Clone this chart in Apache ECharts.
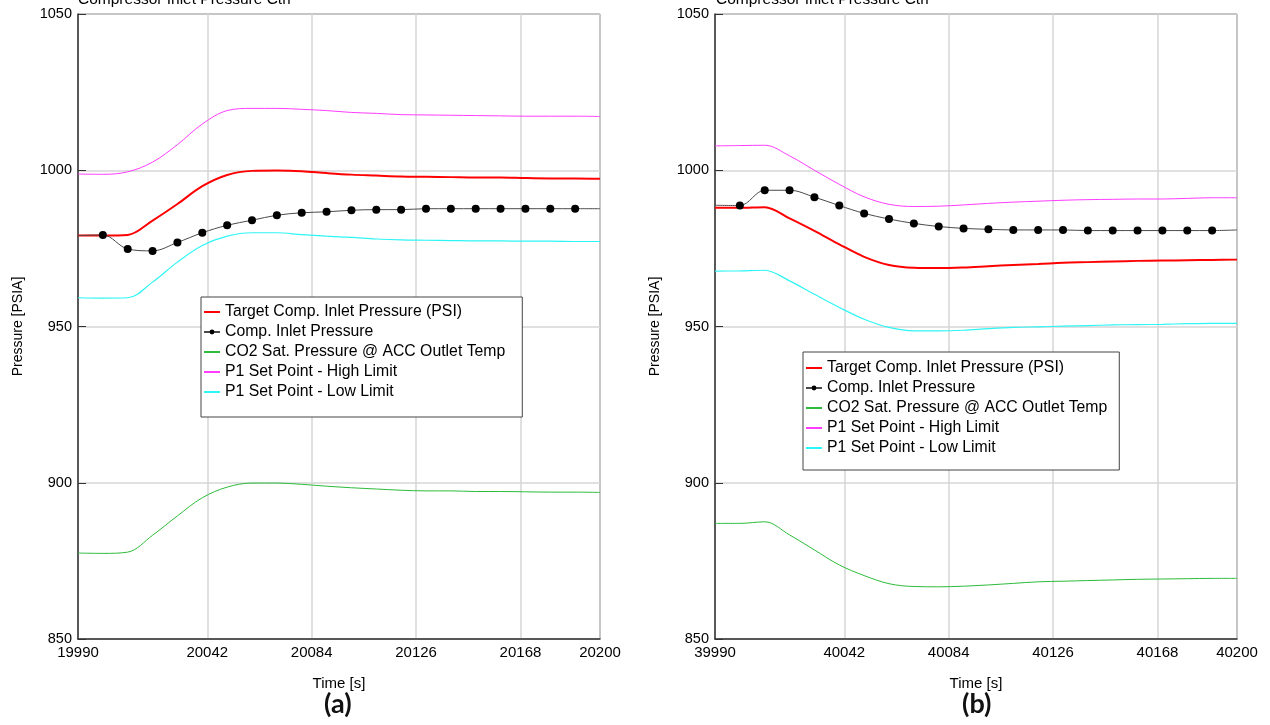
<!DOCTYPE html>
<html>
<head>
<meta charset="utf-8">
<script src="https://cdn.jsdelivr.net/npm/echarts@6/dist/echarts.min.js"></script>
<style>
  html, body { margin: 0; padding: 0; background: #ffffff; }
  #chart { width: 1270px; height: 725px; }
</style>
</head>
<body>
<div id="chart"></div>
<script>
// ---- Panel (a): run around t = 20000 s ----
const timesA = [19990, 20000, 20010, 20020, 20030, 20040, 20050, 20060, 20070, 20080, 20090,
                20100, 20110, 20120, 20130, 20140, 20150, 20160, 20170, 20180, 20190, 20200];
const targetA = [979.1, 979.1, 979.3, 983.9, 989.2, 994.9, 998.5, 999.8, 999.9, 999.7, 999.1,
                 998.6, 998.3, 998.0, 997.9, 997.8, 997.7, 997.7, 997.5, 997.4, 997.4, 997.3];
const compA = [979.1, 979.3, 974.8, 974.2, 976.9, 980.0, 982.4, 984.0, 985.6, 986.4, 986.7,
               987.2, 987.4, 987.4, 987.7, 987.7, 987.7, 987.7, 987.7, 987.7, 987.7, 987.7];
const satA = [877.5, 877.4, 877.8, 883.2, 889.4, 895.2, 898.6, 899.9, 899.9, 899.5, 898.9,
              898.4, 898.0, 897.6, 897.4, 897.4, 897.2, 897.2, 897.1, 897.0, 897.0, 896.9];
const highA = [998.8, 998.7, 999.5, 1002.6, 1008.2, 1014.8, 1019.1, 1019.8, 1019.8, 1019.5, 1019.1,
               1018.5, 1018.2, 1017.8, 1017.7, 1017.6, 1017.5, 1017.4, 1017.3, 1017.3, 1017.3, 1017.2];
const lowA = [959.2, 959.1, 959.2, 964.2, 970.6, 975.9, 978.9, 980.0, 980.0, 979.4, 978.9,
              978.5, 978.0, 977.7, 977.6, 977.5, 977.4, 977.4, 977.3, 977.3, 977.2, 977.2];
const xTicksA = [19990, 20042, 20084, 20126, 20168, 20200];

// ---- Panel (b): run around t = 40000 s ----
const timesB = [39990, 40000, 40010, 40020, 40030, 40040, 40050, 40060, 40070, 40080, 40090,
                40100, 40110, 40120, 40130, 40140, 40150, 40160, 40170, 40180, 40190, 40200];
const targetB = [988.0, 988.0, 988.2, 984.6, 980.6, 976.3, 972.3, 969.7, 968.8, 968.7, 968.9,
                 969.3, 969.7, 970.0, 970.4, 970.6, 970.8, 971.0, 971.1, 971.2, 971.3, 971.4];
const compB = [988.8, 988.7, 993.6, 993.6, 991.4, 988.7, 986.2, 984.4, 983.0, 982.0, 981.4,
               981.1, 980.9, 980.9, 980.9, 980.7, 980.7, 980.7, 980.7, 980.7, 980.7, 980.9];
const satB = [887.0, 887.0, 887.5, 883.3, 878.5, 873.7, 870.3, 867.7, 866.8, 866.7, 866.9,
              867.3, 867.8, 868.3, 868.5, 868.7, 868.9, 869.1, 869.2, 869.3, 869.4, 869.4];
const highB = [1007.8, 1007.9, 1008.0, 1004.6, 1000.0, 995.5, 991.5, 989.1, 988.4, 988.5, 988.9,
               989.4, 989.8, 990.1, 990.4, 990.6, 990.7, 990.8, 990.8, 991.0, 991.2, 991.2];
const lowB = [967.7, 967.8, 968.0, 964.6, 960.3, 956.1, 952.3, 949.7, 948.6, 948.6, 948.8,
              949.3, 949.7, 949.9, 950.1, 950.3, 950.5, 950.6, 950.7, 950.9, 951.0, 951.0];
const xTicksB = [39990, 40042, 40084, 40126, 40168, 40200];

const yTicks = [850, 900, 950, 1000, 1050];

const NAMES = {
  target: 'Target Comp. Inlet Pressure (PSI)',
  comp: 'Comp. Inlet Pressure',
  sat: 'CO2 Sat. Pressure @ ACC Outlet Temp',
  high: 'P1 Set Point - High Limit',
  low: 'P1 Set Point - Low Limit'
};

const FONT = '"Liberation Sans", Arial, sans-serif';

function pairs(times, vals) {
  return times.map((t, i) => [t, vals[i]]);
}
// measured series: dots on the sampled points, plain line at the ends of the window
function dotted(times, vals) {
  return times.map((t, i) => {
    const item = { value: [t, vals[i]] };
    if (i === 0 || i === times.length - 1) item.symbol = 'none';
    return item;
  });
}

function plainLine(name, idx, times, vals, color, width) {
  return {
    name, type: 'line', xAxisIndex: idx, yAxisIndex: idx,
    data: pairs(times, vals), symbol: 'none', smooth: 0.35,
    lineStyle: { color, width }, itemStyle: { color }, z: 2
  };
}

function panelSeries(idx, t, target, comp, sat, high, low) {
  return [
    plainLine(NAMES.sat, idx, t, sat, '#2dbb3a', 1),
    plainLine(NAMES.high, idx, t, high, '#ff3cff', 1),
    plainLine(NAMES.low, idx, t, low, '#2ef5f5', 1.2),
    plainLine(NAMES.target, idx, t, target, '#ff0000', 2),
    {
      name: NAMES.comp, type: 'line', xAxisIndex: idx, yAxisIndex: idx,
      data: dotted(t, comp), smooth: 0.35,
      symbol: 'circle', symbolSize: 8, showAllSymbol: true,
      lineStyle: { color: '#4a4a4a', width: 1 },
      itemStyle: { color: '#000000' }, z: 4
    }
  ];
}

function xAxisCfg(idx, min, max, ticks) {
  return {
    type: 'value', gridIndex: idx, min, max,
    name: 'Time [s]', nameLocation: 'middle', nameGap: 37,
    nameTextStyle: { fontSize: 15, color: '#000', fontFamily: FONT },
    axisLine: { show: true, lineStyle: { color: '#333', width: 1.5 } },
    axisTick: { show: false, customValues: ticks },
    axisLabel: { customValues: ticks, fontSize: 15, color: '#000', fontFamily: FONT, margin: 6,
                 formatter: v => String(v) },
    splitLine: { show: true, lineStyle: { color: '#d6d6d6', width: 1.5 } }
  };
}

function yAxisCfg(idx) {
  return {
    type: 'value', gridIndex: idx, min: yTicks[0], max: yTicks[yTicks.length - 1], interval: 50,
    name: 'Pressure [PSIA]', nameLocation: 'middle', nameGap: 53,
    nameTextStyle: { fontSize: 14, color: '#000', fontFamily: FONT },
    axisLine: { show: true, lineStyle: { color: '#333', width: 1.5 } },
    axisTick: { show: true, inside: true, length: 8, lineStyle: { color: '#333' } },
    axisLabel: { fontSize: 14.5, color: '#000', fontFamily: FONT, margin: 6, formatter: v => String(v) },
    splitLine: { show: true, lineStyle: { color: '#d6d6d6', width: 1.5 } }
  };
}

// plain curves get a bare line sample; the measured series keeps its dot
const legendItems = [
  { name: NAMES.target, itemStyle: { opacity: 0 } },
  { name: NAMES.comp },
  { name: NAMES.sat, itemStyle: { opacity: 0 } },
  { name: NAMES.high, itemStyle: { opacity: 0 } },
  { name: NAMES.low, itemStyle: { opacity: 0 } }
];

function legendCfg(left, top, padding) {
  return {
    left, top, orient: 'vertical', itemGap: 4, itemWidth: 16, itemHeight: 6,
    padding,
    backgroundColor: '#ffffff', borderColor: '#444', borderWidth: 1,
    textStyle: { fontSize: 15.8, lineHeight: 14, color: '#000', fontFamily: FONT },
    data: legendItems, selectedMode: false
  };
}

const chart = echarts.init(document.getElementById('chart'), null, { renderer: 'canvas' });
chart.setOption({
  animation: false,
  backgroundColor: '#ffffff',
  title: [
    { text: 'Compressor Inlet Pressure Ctrl', left: 78, top: -8, padding: 0,
      textStyle: { fontSize: 15.5, fontWeight: 'normal', color: '#000', fontFamily: FONT, lineHeight: 16 } },
    { text: 'Compressor Inlet Pressure Ctrl', left: 716, top: -8, padding: 0,
      textStyle: { fontSize: 15.5, fontWeight: 'normal', color: '#000', fontFamily: FONT, lineHeight: 16 } },
    { text: '(a)', left: 324, top: 691, padding: 0,
      textStyle: { fontSize: 27, fontWeight: 'bold', color: '#111', fontFamily: 'Lato, "Open Sans", sans-serif' } },
    { text: '(b)', left: 962, top: 691, padding: 0,
      textStyle: { fontSize: 27, fontWeight: 'bold', color: '#111', fontFamily: 'Lato, "Open Sans", sans-serif' } }
  ],
  grid: [
    { left: 78, top: 14, width: 522, height: 625, show: true, borderColor: '#333', borderWidth: 1, backgroundColor: 'transparent' },
    { left: 715, top: 14, width: 522, height: 625, show: true, borderColor: '#333', borderWidth: 1, backgroundColor: 'transparent' }
  ],
  xAxis: [
    xAxisCfg(0, timesA[0], timesA[timesA.length - 1], xTicksA),
    xAxisCfg(1, timesB[0], timesB[timesB.length - 1], xTicksB)
  ],
  yAxis: [yAxisCfg(0), yAxisCfg(1)],
  legend: [legendCfg(201, 297, [7, 17, 17, 2]), legendCfg(803, 352, [8, 12, 14, 2])],
  series: [
    ...panelSeries(0, timesA, targetA, compA, satA, highA, lowA),
    ...panelSeries(1, timesB, targetB, compB, satB, highB, lowB)
  ]
});
</script>
</body>
</html>
